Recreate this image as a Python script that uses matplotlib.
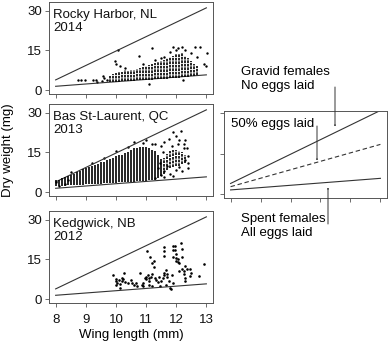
import matplotlib
matplotlib.use("Agg")
import matplotlib.pyplot as plt
import numpy as np

plt.rcParams['font.family'] = ['Liberation Sans', 'DejaVu Sans']

# ---------------- data ----------------
line_x = [8, 13]
gravid = [3.9, 31.0]
half_laid = [2.7, 18.4]
spent = [1.5, 5.8]

# Rocky Harbor, NL 2014 : dense columns (wing length, low, high)
rh_col_x = [9.8, 9.9, 10.0, 10.1, 10.2, 10.3, 10.4, 10.5, 10.6, 10.7, 10.8, 10.9,
            11.0, 11.1, 11.2, 11.3, 11.4, 11.5, 11.6, 11.7, 11.8, 11.9, 12.0, 12.1,
            12.2, 12.3, 12.4, 12.5, 12.6, 12.7]
rh_col_lo = [3.0, 3.1, 3.3, 3.2, 3.4, 3.4, 3.5, 3.6, 3.6, 3.7, 3.8, 3.8,
             3.9, 4.0, 4.0, 4.1, 4.2, 4.3, 4.4, 4.4, 4.5, 4.6, 4.7, 4.8,
             4.9, 5.0, 5.1, 5.2, 5.4, 5.6]
rh_col_hi = [5.5, 6.0, 6.5, 7.0, 6.8, 7.5, 7.2, 7.6, 7.8, 8.0, 8.3, 8.8,
             9.0, 9.5, 9.8, 10.2, 10.8, 11.0, 11.5, 12.0, 12.5, 13.0, 13.5, 13.8,
             14.0, 13.0, 12.0, 11.0, 10.0, 9.0]
rh_pt_x = [8.75, 8.85, 8.97, 9.25, 9.35, 9.38, 9.55, 9.6, 9.58, 9.7, 9.97, 10.0,
           10.07, 10.15, 10.3, 10.77, 10.9, 11.19, 11.1, 11.3, 11.6, 11.9, 12.05,
           12.2, 12.24, 12.63, 12.8, 13.02, 12.93, 13.0, 12.5, 12.7, 11.8, 12.0,
           12.3, 11.5]
rh_pt_y = [3.8, 3.9, 3.8, 3.7, 4.0, 3.3, 3.5, 4.5, 5.2, 4.0, 11.0, 10.0,
           15.0, 9.0, 8.5, 12.9, 10.0, 16.0, 2.3, 11.5, 12.5, 16.3, 16.0,
           16.2, 4.0, 16.3, 16.1, 14.2, 9.9, 9.3, 14.0, 12.5, 14.5, 15.2,
           15.0, 12.0]

# Bas St-Laurent, QC 2013
bs_col_x = [8.0, 8.1, 8.2, 8.3, 8.4, 8.5, 8.6, 8.7, 8.8, 8.9, 9.0, 9.1, 9.2, 9.3,
            9.4, 9.5, 9.6, 9.7, 9.8, 9.9, 10.0, 10.1, 10.2, 10.3, 10.4, 10.5, 10.6,
            10.7, 10.8, 10.9, 11.0, 11.1, 11.2, 11.3, 11.4, 11.5]
bs_col_lo = [2.5, 2.3, 2.4, 2.5, 2.6, 2.6, 2.7, 2.8, 2.8, 2.9, 3.0, 3.0, 3.1, 3.2,
             3.2, 3.3, 3.4, 3.4, 3.5, 3.5, 3.6, 3.7, 3.8, 3.8, 3.9, 4.0, 4.0,
             4.1, 4.2, 4.3, 4.4, 4.5, 4.6, 4.8, 5.5, 6.0]
bs_col_hi = [4.5, 4.8, 5.2, 5.8, 6.0, 6.5, 7.0, 7.5, 8.0, 8.7, 9.0, 9.5, 10.0, 10.3,
             10.8, 11.3, 11.5, 12.0, 12.5, 13.0, 13.5, 14.0, 14.2, 14.8, 15.3, 16.0, 16.5,
             16.8, 17.0, 17.2, 17.0, 16.5, 16.0, 15.5, 14.0, 12.5]
# sparser columns at the long-wing end
bs_col2_x = [11.6, 11.7, 11.8, 11.9, 12.0, 12.1, 12.2, 12.3]
bs_col2_lo = [7.0, 8.5, 9.0, 9.5, 10.0, 10.0, 10.5, 11.0]
bs_col2_hi = [13.0, 14.5, 15.5, 16.0, 16.0, 15.5, 15.0, 14.0]
bs_pt_x = [11.3, 11.5, 11.6, 11.75, 11.9, 12.0, 12.15, 12.1, 12.25, 12.3, 12.35,
           12.4, 12.3, 12.4, 12.2, 12.0, 11.8, 11.6, 11.5, 11.9, 11.4, 11.7, 12.1,
           11.2, 10.6, 10.9, 11.0, 10.4, 10.0, 9.6, 9.2, 8.5, 8.3, 8.1, 8.4, 8.0,
           11.3, 11.6, 11.45, 11.55, 11.85, 12.05, 12.25, 12.4]
bs_pt_y = [18.0, 17.5, 19.0, 20.0, 22.5, 21.0, 23.0, 19.5, 18.0, 19.5, 16.5,
           13.5, 12.0, 9.0, 8.0, 8.5, 7.0, 8.0, 6.5, 6.2, 9.0, 10.0, 9.5,
           18.2, 19.0, 18.5, 19.5, 17.0, 15.5, 12.8, 11.0, 7.5, 3.0, 2.2, 4.5, 4.0,
           5.5, 5.8, 11.0, 15.0, 17.5, 18.0, 16.5, 11.0]

# Kedgwick, NB 2012
kg_x = [9.89, 10.0, 10.0, 10.0, 10.05, 10.1, 10.13, 10.12, 10.2, 10.2, 10.25, 10.27,
        10.3, 10.5, 10.52, 10.6, 10.67, 10.8, 10.85, 10.9, 10.9, 10.95, 11.0, 11.0,
        11.02, 11.05, 11.1, 11.1, 11.13, 11.15, 11.2, 11.2, 11.2, 11.25, 11.25, 11.3,
        11.33, 11.4, 11.44, 11.5, 11.55, 11.58, 11.58, 11.6, 11.6, 11.6, 11.65, 11.67,
        11.7, 11.7, 11.75, 11.8, 11.83, 11.85, 11.88, 11.9, 11.9, 11.95, 11.95, 12.0,
        12.0, 12.0, 12.05, 12.1, 12.05, 12.1, 12.15, 12.18, 12.2, 12.2, 12.25, 12.25,
        12.3, 12.3, 12.35, 12.45, 12.45, 12.5, 12.75, 12.91, 12.3, 11.1, 10.4, 10.7,
        11.45, 11.9]
kg_y = [9.3, 7.5, 7.0, 5.5, 6.0, 7.2, 5.6, 4.1, 7.0, 8.0, 7.5, 9.9,
        6.5, 7.3, 6.0, 5.5, 6.2, 9.9, 5.5, 6.0, 5.0, 8.0, 8.5, 7.5,
        18.0, 9.0, 8.0, 7.0, 16.0, 8.5, 13.5, 9.5, 5.0, 12.0, 14.5, 8.0,
        7.3, 6.5, 8.5, 7.0, 8.0, 19.6, 18.3, 16.3, 9.0, 10.0, 11.0, 5.4,
        8.5, 9.5, 7.0, 4.2, 4.0, 9.3, 16.0, 20.0, 18.5, 20.0, 18.5, 17.0,
        15.5, 14.5, 14.0, 13.5, 15.0, 10.6, 21.0, 19.0, 16.0, 11.5, 10.5, 9.5,
        8.0, 12.5, 11.3, 11.3, 8.8, 10.0, 8.6, 13.3, 7.0, 5.5, 6.0, 5.0,
        5.0, 6.0]

site_labels = ["Rocky Harbor, NL\n2014", "Bas St-Laurent, QC\n2013", "Kedgwick, NB\n2012"]
x_ticks = [8, 9, 10, 11, 12, 13]
y_ticks = [0, 15, 30]

# ---------------- figure ----------------
W, H = 388, 347
fig = plt.figure(figsize=(W / 100, H / 100), dpi=100)

def box(l, t, r, b):
    return [l / W, 1 - b / H, (r - l) / W, (b - t) / H]

LINE_C = '#333333'
SPINE_C = '#555555'
FS = 9.5

def style(ax, xlabels, ylabels):
    ax.set_xlim(7.78, 13.22)
    ax.set_xticks(x_ticks)
    ax.set_yticks(y_ticks)
    for s in ax.spines.values():
        s.set_color(SPINE_C)
        s.set_linewidth(0.7)
    ax.tick_params(direction='out', length=3.0, width=0.6, color=SPINE_C,
                   labelsize=FS, labelcolor='#111111')
    ax.tick_params(axis='x', pad=5.0)
    ax.tick_params(axis='y', pad=2.0)
    if not xlabels:
        ax.set_xticklabels([])
    if not ylabels:
        ax.set_yticklabels([])

panels = [(2, 94), (104, 196), (211, 303)]
axes = []
for i, (t, b) in enumerate(panels):
    ax = fig.add_axes(box(49, t, 213, b))
    ax.set_ylim(-1.4, 33.2)
    style(ax, xlabels=(i == 2), ylabels=True)
    ax.plot(line_x, gravid, color=LINE_C, lw=0.8)
    ax.plot(line_x, spent, color=LINE_C, lw=0.8)
    ax.text(0.025, 0.92, site_labels[i], transform=ax.transAxes, ha='left', va='top',
            fontsize=FS, linespacing=1.12, color='#111111')
    axes.append(ax)

ax1, ax2, ax3 = axes
ax1.vlines(rh_col_x, rh_col_lo, rh_col_hi, colors='black', lw=1.2,
           linestyles=(0, (1.6, 0.5)))
ax1.scatter(rh_pt_x, rh_pt_y, s=3.0, c='black', linewidths=0)
ax2.vlines(bs_col_x, bs_col_lo, bs_col_hi, colors='black', lw=1.2)
ax2.vlines(bs_col2_x, bs_col2_lo, bs_col2_hi, colors='black', lw=1.2,
           linestyles=(0, (1.6, 0.6)))
ax2.scatter(bs_pt_x, bs_pt_y, s=3.0, c='black', linewidths=0)
ax3.scatter(kg_x, kg_y, s=3.5, c='black', linewidths=0)

ax3.set_xlabel("Wing length (mm)", fontsize=FS, labelpad=2)
fig.text(8.5 / W, 1 - 150 / H, "Dry weight (mg)", rotation=90, ha='center', va='center',
         fontsize=FS)

# ---- schematic panel ----
axr = fig.add_axes(box(224, 111, 387, 198))
axr.set_ylim(-1.5, 30.8)
style(axr, xlabels=False, ylabels=False)
axr.plot(line_x, gravid, color=LINE_C, lw=0.8)
axr.plot(line_x, half_laid, color=LINE_C, lw=0.8, ls=(0, (4, 2.5)))
axr.plot(line_x, spent, color=LINE_C, lw=0.8)

def fx(px):
    return px / W

def fy(py):
    return 1 - py / H

fig.text(fx(241), fy(72), "Gravid females", fontsize=FS, va='center', ha='left')
fig.text(fx(241), fy(86), "No eggs laid", fontsize=FS, va='center', ha='left')
fig.text(fx(231), fy(124), "50% eggs laid", fontsize=FS, va='center', ha='left')
fig.text(fx(241), fy(219), "Spent females", fontsize=FS, va='center', ha='left')
fig.text(fx(241), fy(233), "All eggs laid", fontsize=FS, va='center', ha='left')

arrow_kw = dict(arrowstyle='->,head_length=0.5,head_width=0.18', color='#333333', lw=0.7,
                shrinkA=0, shrinkB=0)
for (x0, y0, x1, y1) in [(335, 87, 335, 127), (317, 126, 317, 161), (328, 224, 328, 187)]:
    fig.add_artist(matplotlib.patches.FancyArrowPatch(
        (fx(x0), fy(y0)), (fx(x1), fy(y1)), transform=fig.transFigure, **arrow_kw))

fig.savefig("out.png", dpi=100)
